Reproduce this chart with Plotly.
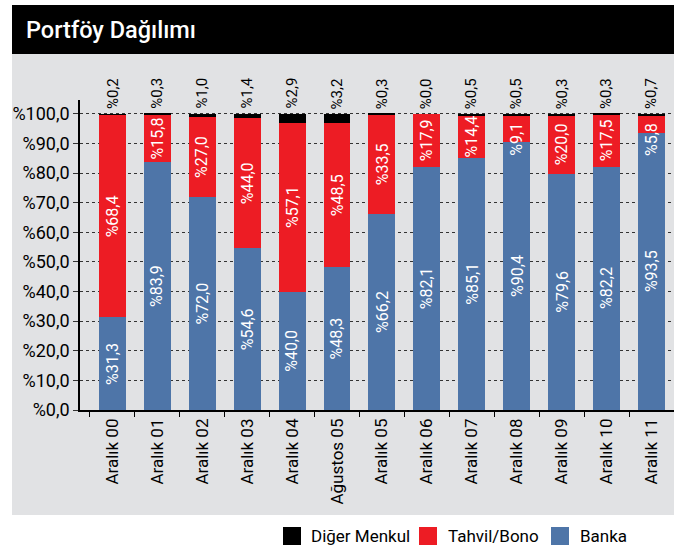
import plotly.graph_objects as go

categories = ["Aralık 00", "Aralık 01", "Aralık 02", "Aralık 03", "Aralık 04", "Ağustos 05",
              "Aralık 05", "Aralık 06", "Aralık 07", "Aralık 08", "Aralık 09", "Aralık 10", "Aralık 11"]
banka = [31.3, 83.9, 72.0, 54.6, 40.0, 48.3, 66.2, 82.1, 85.1, 90.4, 79.6, 82.2, 93.5]
tahvil = [68.4, 15.8, 27.0, 44.0, 57.1, 48.5, 33.5, 17.9, 14.4, 9.1, 20.0, 17.5, 5.8]
diger = [0.2, 0.3, 1.0, 1.4, 2.9, 3.2, 0.3, 0.0, 0.5, 0.5, 0.3, 0.3, 0.7]
y_tickvals = [0, 10, 20, 30, 40, 50, 60, 70, 80, 90, 100]
y_ticktext = ["%0,0", "%10,0", "%20,0", "%30,0", "%40,0", "%50,0", "%60,0", "%70,0", "%80,0", "%90,0", "%100,0"]

BLUE = "#4e75a8"
RED = "#ed1c24"
BLACK = "#000000"
GRAY = "#e1e2e4"
FONT = "Roboto"

def fmt(v):
    return "%" + f"{v:.1f}".replace(".", ",")

W, H = 674, 547
L, R, T, B = 80, 0, 100, 137
PW, PH = W - L - R, H - T - B

def xp(px):
    return (px - L) / PW

def yp(py):
    return (H - B - py) / PH

fig = go.Figure()
fig.add_trace(go.Bar(x=categories, y=banka, name="Banka", marker=dict(color=BLUE, line=dict(width=0)),
                     width=0.6))
fig.add_trace(go.Bar(x=categories, y=tahvil, name="Tahvil/Bono", marker=dict(color=RED, line=dict(width=0)),
                     width=0.6))
fig.add_trace(go.Bar(x=categories, y=diger, name="Diğer Menkul", marker=dict(color=BLACK, line=dict(width=0)),
                     width=0.6))

lab_font = dict(family=FONT, size=16, color="white")
annotations = []
for c, b, t, d in zip(categories, banka, tahvil, diger):
    annotations.append(dict(x=c, y=b / 2, xref="x", yref="y", text=fmt(b), showarrow=False,
                            textangle=-90, yanchor="middle", xanchor="center", font=lab_font))
    if t >= 10:
        annotations.append(dict(x=c, y=b + t / 2, xref="x", yref="y", text=fmt(t), showarrow=False,
                                textangle=-90, yanchor="middle", xanchor="center", font=lab_font))
    else:
        # short segment: keep the label's top inside the bar
        annotations.append(dict(x=c, y=b + t, xref="x", yref="y", text=fmt(t), showarrow=False,
                                textangle=-90, yanchor="top", xanchor="center", yshift=-5, font=lab_font))
    annotations.append(dict(x=c, y=b + t + d, xref="x", yref="y", text=fmt(d), showarrow=False,
                            textangle=-90, yanchor="bottom", xanchor="center", yshift=3,
                            font=dict(family=FONT, size=15, color="black")))

annotations.append(dict(x=xp(24), y=yp(30), xref="paper", yref="paper", text="Portföy Dağılımı",
                        showarrow=False, xanchor="left", yanchor="middle",
                        font=dict(family=FONT, size=23.5, color="white", weight=500)))

shapes = [
    dict(type="rect", xref="paper", yref="paper", x0=xp(12), x1=xp(674), y0=yp(515), y1=yp(54),
         fillcolor=GRAY, line=dict(width=0), layer="below"),
    dict(type="rect", xref="paper", yref="paper", x0=xp(12), x1=xp(674), y0=yp(54), y1=yp(5),
         fillcolor=BLACK, line=dict(width=0), layer="below"),
]

legend_items = [("Diğer Menkul", BLACK, 283, 309), ("Tahvil/Bono", RED, 419, 446), ("Banka", BLUE, 551, 578)]
for label, col, sx, tx in legend_items:
    shapes.append(dict(type="rect", xref="paper", yref="paper", x0=xp(sx), x1=xp(sx + 18),
                       y0=yp(545), y1=yp(527), fillcolor=col, line=dict(width=0)))
    annotations.append(dict(x=xp(tx), y=yp(536), xref="paper", yref="paper", text=label, showarrow=False,
                            xanchor="left", yanchor="middle", font=dict(family=FONT, size=17, color="black")))

fig.update_layout(
    width=W, height=H, barmode="stack", showlegend=False,
    margin=dict(l=L, r=R, t=T, b=B, pad=0),
    paper_bgcolor="white", plot_bgcolor=GRAY,
    font=dict(family=FONT, size=17, color="black"),
    shapes=shapes, annotations=annotations,
    xaxis=dict(type="category", range=[-0.719, 12.5], showline=True, linecolor="black", linewidth=1.5,
               ticks="outside", tickson="boundaries", ticklen=5, tickcolor="black", tickangle=-90,
               showgrid=False, tickfont=dict(family=FONT, size=17, color="black"), automargin=False),
    yaxis=dict(range=[0, 104.7], tickvals=y_tickvals, ticktext=y_ticktext, showline=True,
               linecolor="black", linewidth=1.5, ticks="outside", ticklen=5, tickcolor="#333",
               showgrid=True, gridcolor="#333", griddash="dot", gridwidth=1, zeroline=False,
               tickfont=dict(family=FONT, size=18, color="black"), automargin=False),
)

fig.write_html("out.html", config={"displayModeBar": False},
               post_script="document.body.style.margin='0';document.body.style.padding='0';document.body.style.overflow='hidden';")
